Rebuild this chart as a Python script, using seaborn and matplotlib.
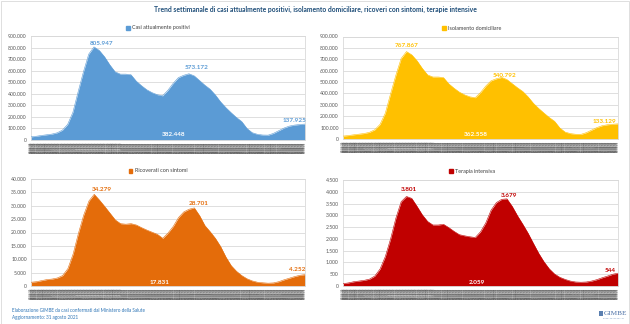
import matplotlib
matplotlib.use("Agg")
import matplotlib.pyplot as plt
import matplotlib.dates as mdates
from matplotlib.patches import Patch, Rectangle
from matplotlib.ticker import FuncFormatter, MultipleLocator
import pandas as pd
import seaborn as sns

# Weekly readings, 1 Sep 2020 - 31 Aug 2021
dates = pd.date_range("2020-09-01", "2021-08-31", freq="7D")

positivi = [27000, 32000, 39000, 45000, 51000, 62000, 85000, 135000, 240000, 419000,
            590000, 743000, 805947, 775000, 720000, 650000, 590000, 570000, 570000, 565000,
            510000, 470000, 435000, 410000, 392000, 382448, 430000, 490000, 540000, 560000,
            573172, 555000, 515000, 475000, 440000, 390000, 330000, 280000, 236000, 195000,
            160000, 100000, 63000, 49000, 43000, 42000, 57000, 80000, 103000, 120000,
            129000, 134000, 137925]

isolamento = [25500, 30300, 36800, 42400, 48200, 58700, 80900, 128300, 227200, 397400,
              560600, 707600, 767867, 739200, 686900, 619800, 562600, 544300, 544300, 539100,
              484700, 445900, 411900, 387600, 370200, 362558, 408000, 465100, 511300, 529000,
              540792, 522100, 485600, 449800, 417100, 370000, 313500, 268300, 227800, 188900,
              155800, 97000, 60800, 47400, 41600, 40800, 55600, 78200, 100400, 116800,
              125100, 129500, 133129]

ricoverati = [1400, 1600, 2000, 2400, 2600, 3000, 3900, 6500, 12000, 19700,
              26500, 31800, 34279, 32100, 29700, 27200, 24700, 23300, 23100, 23300,
              22800, 21800, 20900, 20100, 19300, 17831, 19800, 22300, 25600, 27700,
              28701, 29200, 26300, 22600, 20300, 17800, 14700, 10800, 7600, 5500,
              3900, 2700, 1900, 1400, 1200, 1050, 1150, 1600, 2300, 2900,
              3500, 4000, 4252]

terapia = [100, 130, 180, 210, 240, 290, 420, 720, 1250, 2000,
           2880, 3580, 3801, 3720, 3380, 3020, 2740, 2590, 2590, 2620,
           2480, 2320, 2180, 2130, 2090, 2059, 2300, 2680, 3220, 3540,
           3679, 3700, 3380, 2980, 2620, 2240, 1810, 1390, 1030, 730,
           510, 370, 280, 210, 170, 160, 170, 210, 270, 350,
           420, 500, 544]

series_names = ["Casi attualmente positivi", "Isolamento domiciliare",
                "Ricoverati con sintomi", "Terapia intensiva"]
series_values = [positivi, isolamento, ricoverati, terapia]
colors = ["#5B9BD5", "#FFC000", "#E46C0A", "#C00000"]
y_max = [900000, 900000, 40000, 4500]
y_step = [100000, 100000, 5000, 500]

# labelled points: index into dates, on the baseline or not
label_idx = [12, 30, 25, 52]
label_base = [False, False, True, False]
# pixel offsets of each label from its anchor, per panel
label_offsets = [
    [(7.7, 2.9), (7.7, 6.1), (11.4, 5.0), (-10.0, 3.4)],
    [(0.0, 6.5), (3.3, 2.4), (0.5, 4.7), (-13.0, 2.1)],
    [(7.5, 4.6), (9.9, 5.5), (-2.7, 3.3), (-7.7, 5.3)],
    [(2.8, 7.2), (7.3, 4.0), (2.1, 3.3), (-8.0, 2.2)],
]

W, H = 630, 324
# axes boxes in pixels: left, top, right, bottom
boxes = [(30.7, 36.0, 305.0, 140.0), (343.0, 36.5, 618.0, 139.0),
         (31.0, 179.0, 305.0, 286.0), (343.0, 180.0, 618.0, 286.0)]
legend_pos = [(158, 28), (472, 28), (158, 171), (472, 171.5)]

sns.set_theme(style="white")
plt.rcParams["font.family"] = ["Lato", "DejaVu Sans"]

fig = plt.figure(figsize=(W / 100, H / 100), dpi=100)
fig.patch.set_facecolor("white")

thousands = FuncFormatter(lambda v, p: f"{int(round(v)):,}".replace(",", "."))

for i in range(4):
    l, t, r, b = boxes[i]
    ax = fig.add_axes([l / W, 1 - b / H, (r - l) / W, (b - t) / H])
    vals = series_values[i]
    c = colors[i]
    ax.fill_between(dates, vals, 0, color=c, lw=0, zorder=2)
    sns.lineplot(x=dates, y=vals, color=c, lw=0.4, ax=ax, zorder=3)

    ax.set_xlim(dates[0], dates[-1])
    ax.set_ylim(0, y_max[i])
    ax.yaxis.set_major_locator(MultipleLocator(y_step[i]))
    ax.yaxis.set_major_formatter(thousands)
    ax.grid(axis="y", color="#D9D9D9", lw=0.6, zorder=0)
    ax.set_axisbelow(True)
    for s in ax.spines.values():
        s.set_color("#D9D9D9")
        s.set_linewidth(0.6)
    ax.set_xlabel("")
    ax.set_ylabel("")

    # a date label for every day of the year
    ax.xaxis.set_major_locator(mdates.DayLocator())
    ax.xaxis.set_major_formatter(mdates.DateFormatter("%d/%m/%y"))
    ax.tick_params(axis="x", labelsize=1.8, labelrotation=90, colors="#595959",
                   length=0, pad=1.5)
    ax.tick_params(axis="y", labelsize=3.7, colors="#595959", length=0, pad=3)

    for j, k in enumerate(label_idx):
        dx, dy = label_offsets[i][j]
        base = label_base[j]
        yv = 0 if base else vals[k]
        ax.annotate(thousands(vals[k], None), xy=(dates[k], yv), xytext=(dx, dy),
                    textcoords="offset pixels", ha="center", va="center",
                    fontsize=4.6, fontweight="bold",
                    color="white" if base else c, zorder=5, annotation_clip=False)

    lx, ly = legend_pos[i]
    ax.legend(handles=[Patch(facecolor=c, edgecolor=c, label=series_names[i])],
              loc="center", bbox_to_anchor=(lx / W, 1 - ly / H),
              bbox_transform=fig.transFigure, frameon=False, fontsize=3.9,
              handlelength=0.7, handleheight=0.7, handletextpad=0.4,
              labelcolor="#404040")

fig.text(0.5, 1 - 9 / H,
         "Trend settimanale di casi attualmente positivi, isolamento domiciliare, "
         "ricoveri con sintomi, terapie intensive",
         ha="center", va="center", fontsize=4.9, fontweight="bold", color="#1F4E79")

fig.text(12 / W, 1 - 310 / H, "Elaborazione GIMBE da casi confermati dal Ministero della Salute",
         ha="left", va="center", fontsize=3.3, color="#2E75B6")
fig.text(12 / W, 1 - 317 / H, "Aggiornamento: 31 agosto 2021",
         ha="left", va="center", fontsize=3.3, color="#2E75B6")

# GIMBE mark
fig.patches.append(Rectangle((599 / W, 1 - 316 / H), 3.5 / W, 5 / H,
                             transform=fig.transFigure, color="#5A7FB0", lw=0))
fig.text(603.5 / W, 1 - 313.5 / H, "GIMBE", ha="left", va="center",
         fontsize=5.2, color="#4A6FA5", family=["Liberation Serif", "DejaVu Serif"])
fig.text(614 / W, 1 - 318.5 / H, "EVIDENCE FOR HEALTH", ha="center", va="center",
         fontsize=1.4, color="#7F9CC4")

# outer frame
fig.patches.append(Rectangle((0.5 / W, 0.5 / H), (W - 1.5) / W, (H - 1.5) / H,
                             transform=fig.transFigure, fill=False,
                             edgecolor="#D9D9D9", lw=0.6))

fig.savefig("out.png", dpi=100)
